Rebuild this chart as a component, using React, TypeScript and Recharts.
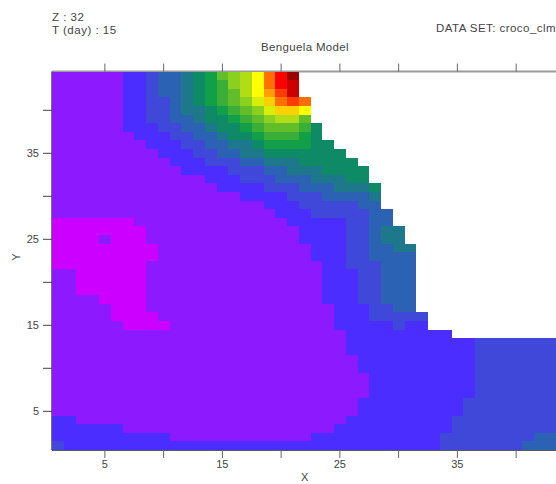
import React from 'react';
import { ScatterChart, Scatter, XAxis, YAxis } from 'recharts';

type Run = [number, number];

const palette = ['#cc00ff','#8c19ff','#4b2eff','#3f48d8','#2b62b4','#1d788c','#0e8a66','#11a047','#3bae37','#62bd2b','#8ad01e','#b1dd14','#d8ee0a','#ffff00','#ffd000','#ffa000','#ff7000','#ff3c00','#ff0000','#cc0000','#990000'];

const xTicks = [5, 10, 15, 20, 25, 30, 35, 40];
const yTicks = [5, 10, 15, 20, 25, 30, 35, 40];
const labelledTicks = [5, 15, 25, 35];

// each row, from the top (Y = 44) down: runs of [colour level, last X of the run]
const rows: Run[][] = [
  [[1,6],[2,8],[3,9],[4,11],[5,12],[6,13],[7,14],[9,15],[10,16],[11,17],[13,18],[16,19],[18,20],[20,21]],
  [[1,6],[2,8],[3,9],[4,11],[5,12],[6,13],[7,14],[8,15],[10,16],[11,17],[13,18],[16,19],[18,20],[19,21]],
  [[1,6],[2,8],[3,9],[4,11],[5,12],[6,13],[7,14],[8,15],[9,16],[11,17],[13,18],[15,19],[17,20],[19,21]],
  [[1,6],[2,8],[3,10],[4,11],[5,12],[6,13],[7,14],[8,15],[9,16],[10,17],[12,18],[14,19],[16,20],[17,21],[16,22]],
  [[1,6],[2,8],[3,10],[4,11],[5,13],[6,14],[7,15],[8,16],[9,17],[10,18],[12,19],[14,21],[13,22]],
  [[1,6],[2,8],[3,10],[4,12],[5,13],[6,15],[7,16],[8,17],[9,18],[10,19],[11,21],[9,22]],
  [[1,6],[2,9],[3,11],[4,13],[5,14],[6,16],[7,17],[8,18],[9,21],[8,22],[6,23]],
  [[1,7],[2,10],[3,12],[4,14],[5,15],[6,17],[7,18],[8,21],[7,22],[6,23]],
  [[1,8],[2,11],[3,13],[4,15],[5,17],[6,18],[7,22],[6,24]],
  [[1,9],[2,12],[3,14],[4,16],[5,18],[6,25]],
  [[1,10],[2,13],[3,16],[4,18],[5,21],[6,26]],
  [[1,11],[2,15],[3,18],[4,20],[5,23],[6,27]],
  [[1,13],[2,16],[3,19],[4,22],[5,25],[6,27]],
  [[1,14],[2,18],[3,21],[4,24],[5,27],[6,28]],
  [[1,16],[2,20],[3,23],[4,27],[5,28]],
  [[1,18],[2,21],[3,26],[4,28]],
  [[1,19],[2,22],[3,27],[4,29]],
  [[0,7],[1,20],[2,25],[3,27],[4,29]],
  [[0,8],[1,21],[2,25],[3,27],[4,28],[5,30]],
  [[0,4],[1,5],[0,8],[1,21],[2,25],[3,27],[4,28],[5,30]],
  [[0,9],[1,22],[2,25],[3,27],[4,29],[5,31]],
  [[0,9],[1,22],[2,25],[3,27],[4,31]],
  [[0,8],[1,23],[2,25],[3,28],[4,31]],
  [[1,2],[0,8],[1,23],[2,26],[3,28],[4,31]],
  [[1,2],[0,8],[1,23],[2,26],[3,28],[4,31]],
  [[1,2],[0,8],[1,23],[2,26],[3,28],[4,31]],
  [[1,4],[0,8],[1,23],[2,26],[3,28],[4,31]],
  [[1,5],[0,8],[1,24],[2,27],[3,29],[4,31]],
  [[1,5],[0,9],[1,24],[2,27],[3,32]],
  [[1,6],[0,10],[1,24],[2,29],[3,30],[2,32]],
  [[1,25],[2,34]],
  [[1,25],[2,36],[3,43]],
  [[1,25],[2,36],[3,43]],
  [[1,26],[2,36],[3,43]],
  [[1,26],[2,36],[3,43]],
  [[1,27],[2,36],[3,43]],
  [[1,27],[2,36],[3,43]],
  [[1,27],[2,36],[3,43]],
  [[1,26],[2,35],[3,43]],
  [[1,26],[2,35],[3,43]],
  [[2,2],[1,25],[2,34],[3,43]],
  [[2,6],[1,24],[2,34],[3,43]],
  [[2,10],[1,22],[2,33],[3,41],[4,43]],
  [[3,1],[2,33],[3,40],[4,43]],
];

const cells = rows.flatMap((runs, r) => {
  const out: { x: number; y: number; level: number }[] = [];
  let x = 1;
  runs.forEach(([level, last]) => {
    for (; x <= last; x++) out.push({ x, y: 44 - r, level });
  });
  return out;
});

const topTickPoints = xTicks.map((x) => ({ x, y: 44 }));

const PLOT_LEFT = 52;
const PLOT_RIGHT = 557.25;
const PLOT_TOP = 71.6;
const PLOT_BOTTOM = 450;
const CHART_W = 600;
const CHART_H = 484;
const CELL_W = (PLOT_RIGHT - PLOT_LEFT) / 43;
const CELL_H = (PLOT_BOTTOM - PLOT_TOP) / 44;

const FONT = '"Liberation Sans", sans-serif';
const INK = '#444';

const CellShape = (p: any) => (
  <rect
    x={p.cx - CELL_W / 2}
    y={p.cy - CELL_H / 2}
    width={CELL_W}
    height={CELL_H}
    fill={palette[p.payload.level]}
    shapeRendering="crispEdges"
  />
);

const NoShape = () => null;

const fmt = (v: number) => (labelledTicks.includes(v) ? String(v) : '');

const head = (left: number, top: number, text: string, spacing: number): React.ReactElement => (
  <div
    style={{
      position: 'absolute', left, top, font: `11.5px ${FONT}`, color: INK,
      letterSpacing: spacing, whiteSpace: 'pre', lineHeight: '13px',
    }}
  >
    {text}
  </div>
);

export default function App() {
  return (
    <div style={{ position: 'absolute', left: 0, top: 0, width: 556, height: 484, overflow: 'hidden', background: '#fff' }}>
      <ScatterChart
        width={CHART_W}
        height={CHART_H}
        margin={{ top: PLOT_TOP - 30, right: CHART_W - PLOT_RIGHT, bottom: 0, left: 0 }}
      >
        <XAxis
          xAxisId="bottom"
          type="number"
          dataKey="x"
          orientation="bottom"
          domain={[0.5, 43.5]}
          ticks={xTicks}
          tickSize={8}
          tickFormatter={fmt}
          height={CHART_H - PLOT_BOTTOM}
          axisLine={{ stroke: '#222', strokeWidth: 1.5 }}
          tickLine={{ stroke: '#666' }}
          interval={0}
          tick={{ fill: INK, fontSize: 11, fontFamily: FONT }}
          label={{ value: 'X', position: 'insideBottom', offset: 3, fill: INK, fontSize: 11, fontFamily: FONT }}
        />
        <XAxis
          xAxisId="top"
          type="number"
          dataKey="x"
          orientation="top"
          domain={[0.5, 43.5]}
          ticks={xTicks}
          tickSize={8}
          tickFormatter={() => ''}
          height={30}
          axisLine={{ stroke: '#999', strokeWidth: 2 }}
          tickLine={{ stroke: '#666' }}
          interval={0}
        />
        <YAxis
          yAxisId="left"
          type="number"
          dataKey="y"
          domain={[0.5, 44.5]}
          ticks={yTicks}
          tickSize={9}
          tickMargin={4}
          tickFormatter={fmt}
          width={PLOT_LEFT}
          axisLine={{ stroke: '#777', strokeWidth: 2 }}
          tickLine={{ stroke: '#444' }}
          interval={0}
          tick={{ fill: INK, fontSize: 11, fontFamily: FONT }}
          label={{ value: 'Y', angle: -90, position: 'insideLeft', offset: 16, fill: INK, fontSize: 11, fontFamily: FONT }}
        />
        <Scatter
          xAxisId="bottom"
          yAxisId="left"
          data={cells}
          dataKey="level"
          shape={CellShape}
          isAnimationActive={false}
        />
        <Scatter xAxisId="top" yAxisId="left" data={topTickPoints} shape={NoShape} isAnimationActive={false} />
      </ScatterChart>
      {head(52, 11, 'Z : 32', 0.5)}
      {head(52, 24, 'T (day) : 15', 0.5)}
      {head(436, 22, 'DATA SET: croco_clm', 0.45)}
      {head(261, 41, 'Benguela Model', 0.35)}
    </div>
  );
}
